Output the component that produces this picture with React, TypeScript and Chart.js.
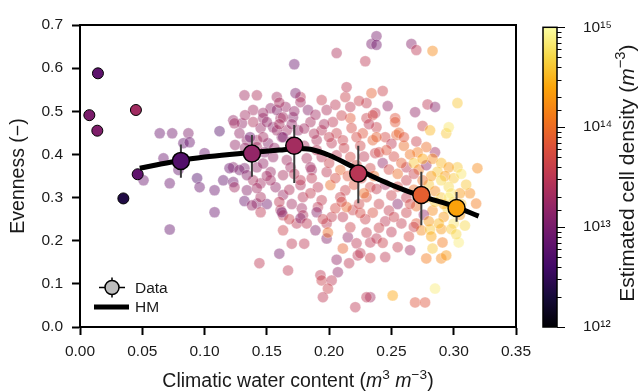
import React, { useEffect, useRef } from 'react';
import { Chart, registerables } from 'chart.js';

Chart.register(...registerables);

const W = 638;
const H = 392;
const FONT = "'Liberation Sans', Arial, Helvetica, sans-serif";
const TEXT = '#1a1a1a';

// ---------- tick labels ----------
const xTickValues = [0, 0.05, 0.1, 0.15, 0.2, 0.25, 0.3, 0.35];
const yTickValues = [0, 0.1, 0.2, 0.3, 0.4, 0.5, 0.6, 0.7];
const densityExponents = [12, 13, 14, 15];

// ---------- binned data (Data) ----------
const binCwc = [0.081, 0.138, 0.172, 0.2234, 0.274, 0.3023];
const binEvenness = [0.385, 0.402, 0.42, 0.356, 0.306, 0.276];
const binLow = [0.346, 0.348, 0.334, 0.287, 0.236, 0.244];
const binHigh = [0.423, 0.445, 0.468, 0.42, 0.36, 0.313];
const binLogDensity = [12.72, 13.2, 13.32, 13.48, 13.9, 14.38];

// ---------- HM model line ----------
const hmCwc = [0.048, 0.06, 0.08, 0.1, 0.12, 0.14, 0.16, 0.175, 0.185, 0.2, 0.22, 0.24, 0.26, 0.28, 0.3, 0.32];
const hmEvenness = [0.368, 0.375, 0.386, 0.394, 0.4, 0.405, 0.41, 0.414, 0.412, 0.398, 0.37, 0.342, 0.318, 0.298, 0.28, 0.257];

// ---------- opaque low-moisture samples ----------
const outlierCwc = [0.0075, 0.0144, 0.0139, 0.0449, 0.0463, 0.0348];
const outlierEvenness = [0.491, 0.588, 0.455, 0.503, 0.354, 0.298];
const outlierLogDensity = [13.02, 12.8, 13.05, 13.3, 12.82, 12.37];

// ---------- individual samples: [cwc, evenness, log10 density] ----------
const samples: [number, number, number][] = [
  [0.064, 0.449, 12.9], [0.074, 0.449, 12.95], [0.087, 0.449, 13.05], [0.112, 0.454, 12.75],
  [0.083, 0.426, 12.85], [0.088, 0.428, 12.9], [0.051, 0.34, 12.9], [0.067, 0.391, 12.9],
  [0.079, 0.364, 12.85], [0.072, 0.333, 12.9], [0.094, 0.345, 12.7], [0.096, 0.324, 12.9],
  [0.108, 0.317, 12.9], [0.115, 0.34, 12.85], [0.123, 0.336, 12.95], [0.1, 0.403, 12.9],
  [0.108, 0.266, 12.9], [0.072, 0.226, 12.85], [0.132, 0.368, 13.0], [0.123, 0.479, 13.2],
  [0.132, 0.292, 12.9], [0.142, 0.286, 13.1], [0.15, 0.285, 12.95], [0.13, 0.472, 13.2],
  [0.132, 0.537, 13.3],
  [0.142, 0.537, 13.4], [0.158, 0.533, 13.3], [0.177, 0.533, 13.45], [0.177, 0.521, 13.3],
  [0.194, 0.526, 13.55], [0.213, 0.533, 13.6], [0.23, 0.519, 13.55], [0.217, 0.51, 13.5],
  [0.153, 0.507, 13.2], [0.165, 0.51, 13.25], [0.183, 0.503, 13.1], [0.198, 0.503, 13.4],
  [0.147, 0.484, 13.2], [0.161, 0.484, 13.3], [0.171, 0.486, 13.1], [0.185, 0.475, 13.35],
  [0.203, 0.475, 13.5], [0.217, 0.484, 13.85], [0.23, 0.484, 13.6], [0.237, 0.496, 13.5],
  [0.145, 0.461, 13.25], [0.155, 0.463, 13.15], [0.166, 0.456, 13.3], [0.175, 0.456, 13.2],
  [0.194, 0.456, 13.45], [0.206, 0.449, 13.6], [0.218, 0.461, 13.7], [0.227, 0.449, 13.8],
  [0.142, 0.433, 13.3], [0.151, 0.426, 13.1], [0.162, 0.44, 13.2], [0.19, 0.433, 13.4],
  [0.202, 0.426, 13.5], [0.211, 0.433, 13.6], [0.235, 0.433, 13.9], [0.155, 0.394, 13.2],
  [0.166, 0.387, 13.3], [0.182, 0.391, 13.35], [0.194, 0.394, 13.45], [0.206, 0.398, 13.5],
  [0.217, 0.394, 13.7], [0.237, 0.403, 13.6], [0.142, 0.37, 13.2], [0.153, 0.359, 13.25],
  [0.163, 0.352, 13.35], [0.186, 0.364, 13.3], [0.198, 0.359, 13.5], [0.209, 0.364, 13.95],
  [0.233, 0.368, 13.65], [0.145, 0.333, 13.3], [0.157, 0.324, 13.2], [0.177, 0.329, 13.4],
  [0.191, 0.324, 13.5], [0.201, 0.329, 14.0], [0.213, 0.317, 13.6], [0.233, 0.324, 13.7],
  [0.145, 0.301, 13.35], [0.163, 0.306, 13.25], [0.179, 0.301, 13.45], [0.194, 0.294, 13.55],
  [0.209, 0.301, 13.6], [0.23, 0.301, 13.75], [0.161, 0.271, 13.4], [0.178, 0.275, 13.3],
  [0.191, 0.278, 13.5], [0.219, 0.271, 13.6], [0.163, 0.259, 13.5], [0.179, 0.259, 13.4],
  [0.139, 0.503, 13.3], [0.147, 0.496, 13.25], [0.158, 0.503, 13.1], [0.163, 0.486, 13.3],
  [0.134, 0.433, 13.2], [0.147, 0.44, 13.3], [0.158, 0.456, 13.25], [0.163, 0.44, 13.0],
  [0.123, 0.37, 13.1], [0.147, 0.379, 13.2], [0.169, 0.37, 13.3], [0.139, 0.34, 13.35],
  [0.153, 0.34, 13.3], [0.177, 0.34, 13.5], [0.185, 0.37, 13.3],
  [0.12, 0.368, 12.9], [0.128, 0.364, 13.0], [0.134, 0.352, 13.1], [0.124, 0.324, 13.3],
  [0.134, 0.317, 13.1], [0.142, 0.322, 13.3], [0.138, 0.282, 13.2], [0.124, 0.472, 13.3],
  [0.1325, 0.491, 13.3], [0.139, 0.475, 13.4], [0.128, 0.449, 13.2], [0.1365, 0.44, 12.9],
  [0.1245, 0.422, 13.2], [0.1325, 0.415, 13.2], [0.142, 0.417, 13.3],
  [0.172, 0.609, 12.9], [0.206, 0.635, 13.4], [0.229, 0.616, 13.5], [0.234, 0.656, 13.0],
  [0.238, 0.674, 13.0], [0.238, 0.654, 12.95], [0.266, 0.656, 13.1], [0.27, 0.642, 13.5],
  [0.283, 0.64, 14.2], [0.214, 0.556, 13.5], [0.234, 0.542, 13.9], [0.243, 0.547, 13.6],
  [0.173, 0.542, 13.0], [0.224, 0.524, 13.6], [0.247, 0.512, 13.2], [0.253, 0.484, 13.8],
  [0.269, 0.498, 13.2], [0.279, 0.516, 13.5], [0.285, 0.51, 13.1], [0.303, 0.519, 14.6],
  [0.275, 0.466, 13.6], [0.281, 0.456, 14.5], [0.294, 0.449, 14.6], [0.296, 0.463, 14.8],
  [0.285, 0.405, 13.3], [0.278, 0.417, 14.0], [0.271, 0.405, 14.1], [0.319, 0.368, 14.2],
  [0.303, 0.37, 14.6], [0.313, 0.31, 14.2], [0.254, 0.445, 13.9], [0.238, 0.463, 13.6],
  [0.235, 0.491, 13.7], [0.253, 0.475, 13.85],
  [0.245, 0.44, 13.7], [0.25, 0.425, 13.5], [0.256, 0.45, 13.95], [0.26, 0.42, 14.0],
  [0.265, 0.4, 14.05], [0.252, 0.395, 13.7], [0.243, 0.38, 13.2], [0.248, 0.365, 13.7],
  [0.255, 0.355, 14.0], [0.262, 0.37, 13.5], [0.268, 0.38, 14.6], [0.272, 0.365, 14.1],
  [0.278, 0.375, 13.2], [0.283, 0.39, 14.2], [0.29, 0.38, 14.5], [0.296, 0.37, 14.3],
  [0.287, 0.36, 14.6], [0.293, 0.35, 14.3], [0.3, 0.345, 14.6], [0.306, 0.355, 14.8],
  [0.262, 0.34, 13.6], [0.255, 0.325, 13.7], [0.245, 0.33, 13.3], [0.238, 0.32, 13.55],
  [0.25, 0.305, 13.6], [0.262, 0.3, 13.55], [0.268, 0.318, 14.0], [0.28, 0.33, 14.6],
  [0.285, 0.315, 14.2], [0.29, 0.3, 14.6], [0.296, 0.325, 14.7], [0.305, 0.31, 14.3],
  [0.3, 0.29, 14.5], [0.295, 0.275, 14.7], [0.305, 0.26, 14.3], [0.3, 0.24, 14.8],
  [0.292, 0.255, 14.3], [0.283, 0.27, 14.2], [0.276, 0.26, 13.2], [0.27, 0.28, 14.0],
  [0.262, 0.265, 13.6], [0.255, 0.285, 13.1], [0.248, 0.27, 13.55], [0.24, 0.285, 13.6],
  [0.235, 0.265, 13.75], [0.229, 0.25, 13.6], [0.245, 0.245, 13.5], [0.258, 0.24, 13.55],
  [0.27, 0.24, 13.85], [0.265, 0.178, 13.3], [0.245, 0.162, 13.5], [0.233, 0.16, 13.6],
  [0.255, 0.185, 13.55], [0.278, 0.159, 14.1], [0.29, 0.159, 14.2], [0.294, 0.166, 14.3],
  [0.283, 0.182, 14.6], [0.291, 0.196, 14.1], [0.304, 0.196, 14.85], [0.274, 0.224, 14.2],
  [0.281, 0.226, 14.6], [0.29, 0.227, 14.3], [0.298, 0.227, 14.6], [0.302, 0.215, 14.7],
  [0.268, 0.232, 13.6], [0.318, 0.286, 14.1], [0.251, 0.073, 14.4], [0.285, 0.089, 14.85],
  [0.269, 0.057, 13.8], [0.277, 0.057, 13.8], [0.233, 0.069, 13.3],
  [0.189, 0.224, 13.1], [0.198, 0.205, 13.1], [0.211, 0.182, 13.9], [0.215, 0.208, 13.2],
  [0.223, 0.166, 13.5], [0.216, 0.148, 13.5], [0.206, 0.156, 13.2], [0.207, 0.127, 13.2],
  [0.193, 0.12, 13.5], [0.194, 0.108, 13.6], [0.202, 0.108, 13.5], [0.199, 0.089, 13.6],
  [0.195, 0.069, 13.5], [0.221, 0.046, 13.5], [0.23, 0.069, 13.5], [0.144, 0.148, 13.5],
  [0.167, 0.131, 13.5], [0.16, 0.17, 13.0], [0.17, 0.193, 13.5], [0.18, 0.193, 13.5],
  [0.163, 0.224, 13.6], [0.174, 0.24, 13.5], [0.168, 0.25, 13.6], [0.145, 0.266, 13.5],
  [0.162, 0.266, 13.0], [0.177, 0.252, 13.1], [0.182, 0.24, 13.5], [0.19, 0.266, 13.1],
  [0.198, 0.24, 13.5], [0.199, 0.219, 14.0], [0.202, 0.255, 13.55], [0.211, 0.255, 13.5],
  [0.217, 0.231, 13.6], [0.222, 0.194, 13.5], [0.225, 0.171, 13.5], [0.233, 0.196, 13.5],
  [0.23, 0.219, 13.55], [0.238, 0.205, 13.5], [0.205, 0.275, 13.7], [0.214, 0.278, 13.95],
  [0.225, 0.264, 13.7],
  [0.222, 0.44, 13.7], [0.225, 0.42, 13.65], [0.228, 0.395, 13.5], [0.222, 0.375, 13.7],
  [0.226, 0.345, 13.7], [0.22, 0.33, 13.8], [0.228, 0.31, 14.0], [0.224, 0.285, 13.65],
  [0.236, 0.35, 14.0], [0.24, 0.405, 13.7], [0.238, 0.44, 13.9], [0.232, 0.47, 13.5],
  [0.15, 0.475, 13.2], [0.16, 0.47, 13.35], [0.17, 0.47, 13.2], [0.18, 0.46, 13.3],
  [0.188, 0.448, 13.4], [0.17, 0.43, 13.25], [0.18, 0.42, 13.35], [0.156, 0.415, 13.2],
  [0.148, 0.405, 13.1], [0.19, 0.41, 13.45], [0.2, 0.44, 13.55], [0.196, 0.47, 13.35],
  [0.189, 0.492, 13.3], [0.172, 0.5, 13.2], [0.16, 0.52, 13.35], [0.205, 0.515, 13.5],
  [0.21, 0.49, 13.6], [0.2, 0.38, 13.6], [0.186, 0.345, 13.5], [0.168, 0.318, 13.4],
  [0.15, 0.35, 13.3], [0.172, 0.355, 13.45], [0.16, 0.29, 13.5], [0.185, 0.31, 13.55],
  [0.205, 0.345, 13.7], [0.215, 0.35, 13.8], [0.212, 0.415, 13.6], [0.17, 0.285, 13.3],
  [0.195, 0.25, 13.6], [0.21, 0.29, 13.7],
  [0.26, 0.44, 13.8], [0.27, 0.43, 13.6], [0.275, 0.39, 14.4], [0.282, 0.35, 14.3],
  [0.275, 0.34, 14.0], [0.268, 0.355, 13.6], [0.258, 0.38, 13.9], [0.246, 0.41, 13.8],
  [0.29, 0.34, 14.7], [0.298, 0.31, 14.8], [0.292, 0.285, 14.4], [0.285, 0.29, 14.6],
  [0.278, 0.3, 14.3], [0.272, 0.3, 13.9], [0.265, 0.285, 13.7], [0.252, 0.255, 13.6],
  [0.288, 0.24, 14.5], [0.28, 0.245, 14.3], [0.3, 0.265, 14.9], [0.306, 0.285, 14.6],
  [0.296, 0.3, 14.9], [0.282, 0.21, 14.4], [0.264, 0.21, 13.7], [0.25, 0.22, 13.5],
  [0.24, 0.23, 13.6], [0.243, 0.195, 13.6], [0.31, 0.33, 14.6], [0.309, 0.235, 14.7],
];

// ---------- colormap (inferno) ----------
const infernoStops: [number, string][] = [
  [0, '#000004'], [0.1, '#160b39'], [0.2, '#420a68'], [0.3, '#6a176e'], [0.4, '#932667'],
  [0.5, '#bc3754'], [0.6, '#dd513a'], [0.7, '#f37819'], [0.8, '#fca50a'], [0.9, '#f6d746'], [1, '#fcffa4'],
];
const LOG_MIN = 12;
const LOG_MAX = 15;

function hexToRgb(h: string): number[] {
  return [parseInt(h.slice(1, 3), 16), parseInt(h.slice(3, 5), 16), parseInt(h.slice(5, 7), 16)];
}
function inferno(logD: number, alpha = 1): string {
  const t = Math.max(0, Math.min(1, (logD - LOG_MIN) / (LOG_MAX - LOG_MIN)));
  let i = 0;
  while (i < infernoStops.length - 2 && t > infernoStops[i + 1][0]) i++;
  const [t0, c0] = infernoStops[i];
  const [t1, c1] = infernoStops[i + 1];
  const f = (t - t0) / (t1 - t0);
  const a = hexToRgb(c0);
  const b = hexToRgb(c1);
  const rgb = a.map((v, k) => Math.round(v + (b[k] - v) * f));
  return `rgba(${rgb[0]},${rgb[1]},${rgb[2]},${alpha})`;
}

type Part = { t: string; italic?: boolean; sup?: boolean };
function drawMixed(ctx: CanvasRenderingContext2D, parts: Part[], size: number, cx: number, baseline: number) {
  const fontFor = (p: Part) => `${p.italic ? 'italic ' : ''}${p.sup ? size * 0.7 : size}px ${FONT}`;
  const widths = parts.map((p) => {
    ctx.font = fontFor(p);
    return ctx.measureText(p.t).width;
  });
  const total = widths.reduce((s, w) => s + w, 0);
  let x = cx - total / 2;
  ctx.textAlign = 'left';
  ctx.textBaseline = 'alphabetic';
  ctx.fillStyle = TEXT;
  parts.forEach((p, i) => {
    ctx.font = fontFor(p);
    ctx.fillText(p.t, x, baseline - (p.sup ? size * 0.42 : 0));
    x += widths[i];
  });
}

const xTitleParts: Part[] = [
  { t: 'Climatic water content (' }, { t: 'm', italic: true }, { t: '3', sup: true }, { t: ' ' },
  { t: 'm', italic: true }, { t: '\u22123', sup: true }, { t: ')' },
];
const cbTitleParts: Part[] = [
  { t: 'Estimated cell density (' }, { t: 'm', italic: true }, { t: '\u22123', sup: true }, { t: ')' },
];

const SUP: Record<string, string> = { '0': '\u2070', '1': '\u00b9', '2': '\u00b2', '3': '\u00b3', '4': '\u2074', '5': '\u2075', '6': '\u2076', '7': '\u2077', '8': '\u2078', '9': '\u2079' };
const powLabel = (e: number) => '10' + String(e).split('').map((c) => SUP[c]).join('');

export default function App() {
  const mainRef = useRef<HTMLCanvasElement>(null);
  const cbRef = useRef<HTMLCanvasElement>(null);

  useEffect(() => {
    if (!mainRef.current || !cbRef.current) return;

    const errorSegments: { x: number; y: number | null }[] = [];
    binCwc.forEach((x, i) => {
      errorSegments.push({ x, y: binLow[i] }, { x, y: binHigh[i] }, { x, y: null });
    });

    const decorPlugin = {
      id: 'decor',
      afterDraw(chart: any) {
        const { ctx, chartArea: a } = chart;
        ctx.save();
        ctx.strokeStyle = '#000';
        ctx.lineWidth = 2;
        ctx.beginPath();
        ctx.moveTo(a.left, a.top);
        ctx.lineTo(a.right, a.top);
        ctx.lineTo(a.right, a.bottom);
        ctx.stroke();

        drawMixed(ctx, xTitleParts, 19.5, (a.left + a.right) / 2, 387);

        // legend
        const mx = a.left + 32;
        const my = a.bottom - 39.5;
        ctx.strokeStyle = '#000';
        ctx.lineWidth = 1.5;
        ctx.beginPath();
        ctx.moveTo(mx - 13, my); ctx.lineTo(mx + 13, my);
        ctx.moveTo(mx, my - 10); ctx.lineTo(mx, my + 10);
        ctx.stroke();
        ctx.beginPath();
        ctx.arc(mx, my, 7, 0, Math.PI * 2);
        ctx.fillStyle = '#bdbdbd';
        ctx.fill();
        ctx.stroke();
        const ly = a.bottom - 20;
        ctx.lineWidth = 5;
        ctx.beginPath();
        ctx.moveTo(a.left + 14, ly); ctx.lineTo(a.left + 49, ly);
        ctx.stroke();
        ctx.fillStyle = TEXT;
        ctx.font = `15.5px ${FONT}`;
        ctx.textAlign = 'left';
        ctx.textBaseline = 'middle';
        ctx.fillText('Data', a.left + 55, my + 1);
        ctx.fillText('HM', a.left + 55, ly + 1);
        ctx.restore();
      },
    };

    const tickFont = { family: FONT, size: 15.5 };

    const main = new Chart(mainRef.current, {
      type: 'scatter',
      data: {
        datasets: [
          {
            label: 'Data',
            data: binCwc.map((x, i) => ({ x, y: binEvenness[i] })),
            pointRadius: 8.5,
            pointBackgroundColor: binLogDensity.map((d) => inferno(d)),
            pointBorderColor: '#000',
            pointBorderWidth: 1.5,
            order: 0,
          },
          {
            label: 'errors',
            data: errorSegments,
            showLine: true,
            borderColor: '#3c3c3c',
            borderWidth: 2,
            pointRadius: 0,
            spanGaps: false,
            order: 1,
          },
          {
            label: 'HM',
            data: hmCwc.map((x, i) => ({ x, y: hmEvenness[i] })),
            showLine: true,
            borderColor: '#000',
            borderWidth: 5,
            pointRadius: 0,
            cubicInterpolationMode: 'monotone',
            order: 2,
          },
          {
            label: 'dry',
            data: outlierCwc.map((x, i) => ({ x, y: outlierEvenness[i] })),
            pointRadius: 5.5,
            pointBackgroundColor: outlierLogDensity.map((d) => inferno(d)),
            pointBorderColor: '#000',
            pointBorderWidth: 1,
            order: 3,
          },
          {
            label: 'samples',
            data: samples.map(([x, y]) => ({ x, y })),
            pointRadius: 5.5,
            pointBackgroundColor: samples.map(([, , d]) => inferno(d, 0.45)),
            pointBorderColor: 'rgba(255,255,255,0.5)',
            pointBorderWidth: 0.6,
            order: 4,
          },
        ],
      } as any,
      options: {
        animation: false,
        responsive: false,
        events: [],
        layout: { padding: { top: 25, right: 122, left: 0, bottom: 0 } },
        plugins: { legend: { display: false }, tooltip: { enabled: false } },
        scales: {
          x: {
            type: 'linear',
            min: 0,
            max: 0.35,
            afterBuildTicks: (s: any) => { s.ticks = xTickValues.map((value) => ({ value })); },
            afterFit: (s: any) => { s.height = 65; },
            ticks: { callback: (v: any) => Number(v).toFixed(2), font: tickFont, color: TEXT, padding: 7, maxRotation: 0, autoSkip: false },
            grid: { drawOnChartArea: false, tickLength: 8, tickWidth: 2, tickColor: '#000' },
            border: { color: '#000', width: 2 },
          },
          y: {
            type: 'linear',
            min: 0,
            max: 0.7,
            afterBuildTicks: (s: any) => { s.ticks = yTickValues.map((value) => ({ value })); },
            afterFit: (s: any) => { s.width = 80; },
            ticks: { callback: (v: any) => Number(v).toFixed(1), font: tickFont, color: TEXT, padding: 9, autoSkip: false },
            grid: { drawOnChartArea: false, tickLength: 8, tickWidth: 2, tickColor: '#000' },
            border: { color: '#000', width: 2 },
            title: { display: true, text: 'Evenness (\u2212)', font: { family: FONT, size: 19.5 }, color: TEXT, padding: { top: 7, bottom: 0 } },
          },
        },
      } as any,
      plugins: [decorPlugin],
    });

    const colorbarPlugin = {
      id: 'colorbar',
      beforeDatasetsDraw(chart: any) {
        const { ctx, chartArea: a } = chart;
        const scale = chart.scales.y;
        ctx.save();
        const grad = ctx.createLinearGradient(0, a.bottom, 0, a.top);
        infernoStops.forEach(([t, c]) => grad.addColorStop(t, c));
        ctx.fillStyle = grad;
        ctx.fillRect(a.left, a.top, a.right - a.left, a.bottom - a.top);
        ctx.strokeStyle = '#000';
        ctx.lineWidth = 1.5;
        ctx.strokeRect(a.left, a.top, a.right - a.left, a.bottom - a.top);
        ctx.lineWidth = 1.2;
        ctx.beginPath();
        scale.ticks.forEach((t: any) => {
          const y = Math.round(scale.getPixelForValue(t.value)) + 0.5;
          const e = Math.log10(t.value);
          const major = Math.abs(e - Math.round(e)) < 1e-6;
          ctx.moveTo(a.right, y);
          ctx.lineTo(a.right + (major ? 8 : 4.5), y);
        });
        ctx.stroke();
        ctx.translate(634, (a.top + a.bottom) / 2 - 4);
        ctx.rotate(-Math.PI / 2);
        drawMixed(ctx, cbTitleParts, 21, 0, 0);
        ctx.restore();
      },
    };

    const cb = new Chart(cbRef.current, {
      type: 'scatter',
      data: { datasets: [{ data: [] }] },
      options: {
        animation: false,
        responsive: false,
        events: [],
        layout: { padding: { top: 25, left: 543, right: 0, bottom: 65 } },
        plugins: { legend: { display: false }, tooltip: { enabled: false } },
        scales: {
          x: { display: false },
          y: {
            type: 'logarithmic',
            position: 'right',
            min: Math.pow(10, densityExponents[0]),
            max: Math.pow(10, densityExponents[densityExponents.length - 1]),
            afterFit: (s: any) => { s.width = W - 557; },
            ticks: {
              autoSkip: false,
              padding: 18,
              font: { family: FONT, size: 15.5 },
              color: TEXT,
              callback: (v: any) => {
                const e = Math.log10(Number(v));
                const r = Math.round(e);
                return Math.abs(e - r) < 1e-6 && densityExponents.includes(r) ? powLabel(r) : '';
              },
            },
            grid: { display: false },
            border: { display: false },
          },
        },
      } as any,
      plugins: [colorbarPlugin],
    });

    return () => {
      main.destroy();
      cb.destroy();
    };
  }, []);

  return (
    <div style={{ position: 'fixed', left: 0, top: 0, width: W, height: H, background: '#fff' }}>
      <canvas ref={mainRef} width={W} height={H} style={{ position: 'absolute', left: 0, top: 0, width: W, height: H }} />
      <canvas ref={cbRef} width={W} height={H} style={{ position: 'absolute', left: 0, top: 0, width: W, height: H, pointerEvents: 'none' }} />
    </div>
  );
}
